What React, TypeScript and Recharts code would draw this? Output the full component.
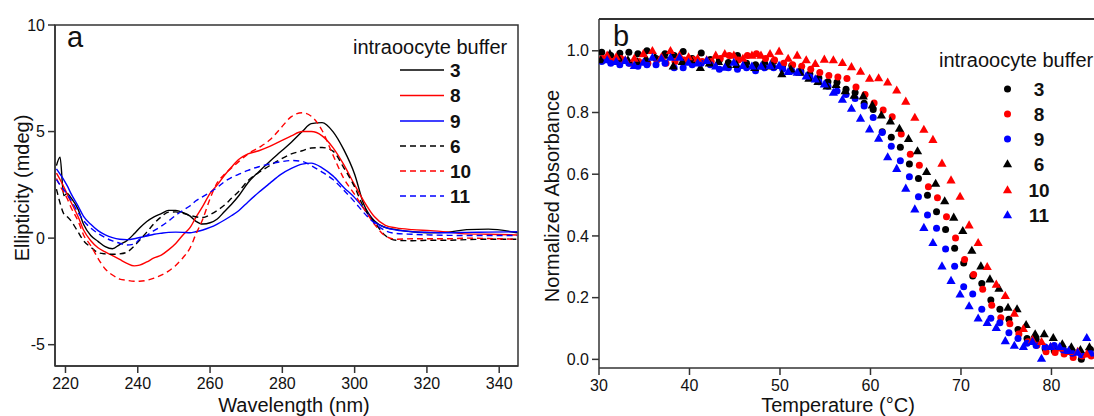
import React from "react";
import {
  LineChart,
  Line,
  ScatterChart,
  Scatter,
  XAxis,
  YAxis,
  ReferenceArea,
  ReferenceLine,
} from "recharts";

const FONT = "'Liberation Sans', Arial, sans-serif";
const AXIS = "#333";
const TXT = "#111";

// ---- panel a: CD spectra ----
const wavelengths = [
  217.5, 218.5, 219.5, 220.5, 221.5, 223.5, 225, 227, 229, 231, 233, 235, 237, 239, 240.5,
  242.5, 244.5, 246.5, 248.5, 250.5, 252.5, 254.5, 256, 258, 260, 262, 264, 266, 268, 270.5,
  273.5, 276.5, 279.5, 282.5, 285.5, 288, 291, 294, 297, 300, 302.5, 305.5, 308.5, 311.5, 316,
  321, 326, 331, 337, 345,
];

const cd3 = [
  3.4, 3.8, 2.0, 2.1, 1.9, 1.35, 0.65, 0.12, -0.15, -0.4, -0.5, -0.3, -0.12, 0.2, 0.47, 0.78,
  1.0, 1.15, 1.3, 1.3, 1.2, 1.03, 0.8, 0.66, 0.72, 0.9, 1.25, 1.6, 2.0, 2.6, 3.12, 3.6, 4.05,
  4.5, 5.0, 5.37, 5.42, 5.0, 4.15, 3.0, 1.6, 0.8, 0.5, 0.4, 0.3, 0.25, 0.28, 0.4, 0.42, 0.25,
];
const cd8 = [
  3.05, 2.75, 2.42, 2.05, 1.7, 1.0, 0.38, -0.12, -0.45, -0.65, -0.82, -1.0, -1.18, -1.3, -1.27,
  -1.12, -0.93, -0.8, -0.55, -0.25, 0.15, 0.5, 0.95, 1.5, 2.1, 2.5, 2.95, 3.35, 3.7, 3.95, 4.1,
  4.3, 4.55, 4.8, 5.0, 5.0, 4.8, 4.25, 3.45, 2.5, 1.75, 1.0, 0.6, 0.48, 0.4, 0.35, 0.28, 0.2,
  0.18, 0.15,
];
const cd9 = [
  3.25, 3.0, 2.75, 2.45, 2.1, 1.5, 1.02, 0.65, 0.35, 0.15, 0.02, -0.05, -0.07, -0.03, 0.03, 0.1,
  0.18, 0.23, 0.27, 0.28, 0.27, 0.25, 0.3, 0.38, 0.5, 0.66, 0.85, 1.06, 1.3, 1.7, 2.15, 2.57,
  2.98, 3.27, 3.47, 3.52, 3.3, 2.92, 2.38, 1.9, 1.4, 0.75, 0.5, 0.38, 0.3, 0.27, 0.25, 0.27,
  0.28, 0.3,
];
const cd6 = [
  2.3, 1.65, 1.15, 1.0, 0.82, 0.28, -0.12, -0.42, -0.68, -0.74, -0.76, -0.74, -0.66, -0.38, -0.1,
  0.28, 0.68, 1.0, 1.22, 1.23, 1.16, 1.07, 1.0, 0.97, 1.1, 1.3, 1.55, 1.88, 2.2, 2.7, 3.08, 3.4,
  3.7, 3.95, 4.1, 4.23, 4.25, 4.08, 3.3, 2.4, 1.45, 0.75, 0.12, -0.1, -0.12, -0.1, -0.1, -0.07,
  -0.05, -0.05,
];
const cd10 = [
  2.8, 2.45, 2.15, 1.85, 1.45, 0.8, 0.15, -0.35, -0.95, -1.45, -1.73, -1.92, -1.98, -2.02, -2.02,
  -1.98, -1.88, -1.74, -1.55, -1.28, -0.92, -0.45, 0.15, 0.9, 1.85, 2.6, 3.0, 3.3, 3.6, 3.95,
  4.25, 4.6, 5.15, 5.7, 5.88, 5.72, 5.05, 3.9, 2.8, 2.05, 1.4, 0.65, 0.1, -0.05, -0.03, -0.03,
  -0.03, 0.0, -0.02, -0.05,
];
const cd11 = [
  2.75, 2.5, 2.28, 2.05, 1.78, 1.2, 0.82, 0.47, 0.22, 0.02, -0.13, -0.24, -0.32, -0.28, -0.05,
  0.13, 0.35, 0.56, 0.8, 1.07, 1.3, 1.52, 1.74, 1.95, 2.15, 2.38, 2.65, 2.85, 3.0, 3.18, 3.35,
  3.48, 3.58, 3.64, 3.6, 3.4, 3.1, 2.75, 2.25, 1.7, 1.2, 0.7, 0.35, 0.22, 0.18, 0.15, 0.13, 0.12,
  0.12, 0.12,
];

const cdTicksX = [220, 240, 260, 280, 300, 320, 340];
const cdTicksY = [-5, 0, 5, 10];

const cdSeries = [
  { key: "b3", label: "3", values: cd3, color: "#000000", dash: undefined },
  { key: "b8", label: "8", values: cd8, color: "#ff0000", dash: undefined },
  { key: "b9", label: "9", values: cd9, color: "#0000ff", dash: undefined },
  { key: "b6", label: "6", values: cd6, color: "#000000", dash: "6 4" },
  { key: "b10", label: "10", values: cd10, color: "#ff0000", dash: "6 4" },
  { key: "b11", label: "11", values: cd11, color: "#0000ff", dash: "6 4" },
];

const cdRows = wavelengths.map((wl, i) => {
  const row: Record<string, number> = { wl };
  cdSeries.forEach((s) => (row[s.key] = s.values[i]));
  return row;
});

// ---- panel b: melting curves ----
const temps = [
  30, 31, 32, 33, 34, 35, 36, 37, 38, 39, 40, 41, 42, 43, 44, 45, 46, 47, 48, 49, 50, 51, 52, 53,
  54, 55, 56, 57, 58, 59, 60, 61, 62, 63, 64, 65, 66, 67, 68, 69, 70, 71, 72, 73, 74, 75, 76, 77,
  78, 79, 80, 81, 82, 83, 84,
];

const abs3 = [
  0.995, 0.985, 0.992, 0.995, 0.99, 1.0, 0.975, 0.99, 0.985, 0.998,
  0.975, 0.993, 0.972, 0.97, 0.962, 0.985, 0.96, 0.955, 0.96, 0.965,
  0.952, 0.952, 0.935, 0.925, 0.912, 0.9, 0.898, 0.875, 0.865, 0.83,
  0.81, 0.738, 0.72, 0.687, 0.633, 0.586, 0.532, 0.478, 0.421, 0.36,
  0.312, 0.27, 0.246, 0.192, 0.162, 0.13, 0.097, 0.068, 0.065, 0.034,
  0.028, 0.032, 0.025, 0.0, 0.032,
];
const abs8 = [
  0.975, 0.965, 0.975, 0.96, 0.965, 0.96, 0.97, 0.96, 0.965, 0.97,
  0.972, 0.965, 0.965, 0.975, 0.985, 0.97, 0.985, 0.99, 0.975, 0.97,
  0.96, 0.955, 0.95, 0.94, 0.93, 0.92, 0.915, 0.91, 0.883, 0.858,
  0.831, 0.808, 0.786, 0.73, 0.665, 0.629, 0.559, 0.524, 0.462, 0.393,
  0.324, 0.275, 0.227, 0.175, 0.135, 0.115, 0.082, 0.057, 0.046, 0.025,
  0.022, 0.017, 0.006, 0.011, 0.011,
];
const abs9 = [
  0.965, 0.96, 0.955, 0.96, 0.95, 0.955, 0.955, 0.96, 0.945, 0.945,
  0.955, 0.96, 0.955, 0.94, 0.945, 0.94, 0.945, 0.935, 0.945, 0.945,
  0.94, 0.935, 0.93, 0.915, 0.9, 0.885, 0.87, 0.858, 0.845, 0.821,
  0.784, 0.735, 0.691, 0.644, 0.592, 0.527, 0.468, 0.425, 0.358, 0.302,
  0.235, 0.212, 0.162, 0.133, 0.119, 0.086, 0.068, 0.052, 0.045, 0.04,
  0.045, 0.03, 0.02, 0.015, 0.02,
];
const abs6 = [
  0.97, 0.99, 0.975, 0.97, 0.965, 0.975, 0.98, 0.985, 0.95, 0.965,
  0.97, 0.945, 0.96, 0.965, 0.955, 0.955, 0.955, 0.945, 0.95, 0.95,
  0.925, 0.94, 0.93, 0.91, 0.9, 0.885, 0.89, 0.87, 0.855, 0.853,
  0.824, 0.791, 0.772, 0.748, 0.715, 0.675, 0.608, 0.57, 0.513, 0.46,
  0.417, 0.353, 0.302, 0.26, 0.23, 0.168, 0.163, 0.112, 0.082, 0.082,
  0.07, 0.05, 0.04, 0.031, 0.04,
];
const abs10 = [
  0.985, 0.98, 0.97, 0.975, 0.99, 1.0, 0.98, 1.0, 0.985, 0.98,
  0.975, 0.97, 0.985, 0.99, 0.985, 0.975, 0.985, 0.985, 0.99, 0.998,
  0.975, 0.985, 0.97, 0.958, 0.972, 0.97, 0.961, 0.948, 0.933, 0.91,
  0.912, 0.898, 0.872, 0.836, 0.784, 0.745, 0.712, 0.635, 0.581, 0.528,
  0.435, 0.378, 0.3, 0.243, 0.206, 0.149, 0.099, 0.063, 0.057, 0.041,
  0.036, 0.025, 0.025, 0.017, 0.015,
];
const abs11 = [
  0.97, 0.965, 0.968, 0.952, 0.962, 0.978, 0.975, 0.978, 0.978, 0.962,
  0.96, 0.968, 0.95, 0.946, 0.962, 0.952, 0.95, 0.95, 0.952, 0.952,
  0.932, 0.93, 0.918, 0.908, 0.892, 0.865, 0.842, 0.813, 0.781, 0.746,
  0.716, 0.656, 0.618, 0.554, 0.487, 0.427, 0.378, 0.302, 0.255, 0.211,
  0.173, 0.133, 0.119, 0.103, 0.06, 0.045, 0.041, 0.057, 0.003, 0.041,
  0.041, 0.028, 0.022, 0.07, 0.02,
];

const meltTicksX = [30, 40, 50, 60, 70, 80];
const meltTicksY = [0, 0.2, 0.4, 0.6, 0.8, 1.0];

// each buffer was sampled slightly off the whole degree
const meltSeries = [
  { label: "3", values: abs3, color: "#000000", shape: "circle", tOffset: 0.3 },
  { label: "8", values: abs8, color: "#ff0000", shape: "circle", tOffset: 0.4 },
  { label: "9", values: abs9, color: "#0000ff", shape: "circle", tOffset: 0.3 },
  { label: "6", values: abs6, color: "#000000", shape: "triangle", tOffset: 0.2 },
  { label: "10", values: abs10, color: "#ff0000", shape: "triangle", tOffset: 0.9 },
  { label: "11", values: abs11, color: "#0000ff", shape: "triangle", tOffset: 0.9 },
];

function Marker({ cx, cy, color, shape }: { cx: number; cy: number; color: string; shape: string }) {
  if (shape === "circle") return <circle cx={cx} cy={cy} r={3.5} fill={color} />;
  return (
    <polygon
      points={`${cx},${cy - 4.8} ${cx + 4.6},${cy + 3.3} ${cx - 4.6},${cy + 3.3}`}
      fill={color}
    />
  );
}

const tickStyle = { fontSize: 16, fill: TXT, fontFamily: FONT };

function Overlay() {
  const rowA = [70, 95.5, 121, 146, 171, 196];
  const rowB = [89, 114, 139, 164, 190, 215];
  return (
    <svg
      width={1094}
      height={416}
      style={{ position: "absolute", left: 0, top: 0, pointerEvents: "none" }}
      fontFamily={FONT}
    >
      <text x={67} y={47} fontSize={29} fill={TXT}>a</text>
      <text x={613} y={46} fontSize={29} fill={TXT}>b</text>

      <text
        transform="translate(22,188) rotate(-90)"
        textAnchor="middle"
        dominantBaseline="central"
        fontSize={20}
        fill={TXT}
      >
        Ellipticity (mdeg)
      </text>
      <text x={294} y={405} textAnchor="middle" dominantBaseline="central" fontSize={20} fill={TXT}>
        Wavelength (nm)
      </text>
      <text
        transform="translate(552,196) rotate(-90)"
        textAnchor="middle"
        dominantBaseline="central"
        fontSize={20}
        fill={TXT}
      >
        Normalized Absorbance
      </text>
      <text x={838} y={405} textAnchor="middle" dominantBaseline="central" fontSize={20} fill={TXT}>
        Temperature (°C)
      </text>

      {/* legend a */}
      <text x={353} y={47} dominantBaseline="central" fontSize={20} fill={TXT}>
        intraoocyte buffer
      </text>
      {cdSeries.map((s, i) => (
        <g key={s.key}>
          <line
            x1={400}
            x2={444}
            y1={rowA[i]}
            y2={rowA[i]}
            stroke={s.color}
            strokeWidth={1.5}
            strokeDasharray={s.dash}
          />
          <text x={450} y={rowA[i]} dominantBaseline="central" fontSize={19} fontWeight="bold" fill={TXT}>
            {s.label}
          </text>
        </g>
      ))}

      {/* legend b */}
      <text x={939} y={60} dominantBaseline="central" fontSize={20} fill={TXT}>
        intraoocyte buffer
      </text>
      {meltSeries.map((s, i) => (
        <g key={s.label}>
          <Marker cx={1007.5} cy={rowB[i]} color={s.color} shape={s.shape} />
          <text
            x={1039}
            y={rowB[i]}
            textAnchor="middle"
            dominantBaseline="central"
            fontSize={19}
            fontWeight="bold"
            fill={TXT}
          >
            {s.label}
          </text>
        </g>
      ))}
    </svg>
  );
}

export default function App() {
  const wlMin = 217.1;
  const wlMax = 345.2;
  const tMin = 30;
  const tMax = 84.7;
  const aMin = -0.028;
  const aMax = 1.103;

  return (
    <div
      style={{
        position: "absolute",
        left: 0,
        top: 0,
        width: 1094,
        height: 416,
        overflow: "hidden",
        background: "#fff",
        fontFamily: FONT,
      }}
    >
      <div style={{ position: "absolute", left: 0, top: 0 }}>
        <LineChart
          width={540}
          height={416}
          data={cdRows}
          margin={{ top: 25, right: 22, bottom: 20, left: 15 }}
        >
          <XAxis
            type="number"
            dataKey="wl"
            domain={[wlMin, wlMax]}
            ticks={cdTicksX}
            allowDataOverflow
            height={30}
            tick={tickStyle}
            tickSize={7}
            tickMargin={5}
            stroke={AXIS}
            strokeWidth={1.5}
          />
          <YAxis
            type="number"
            domain={[-6, 10]}
            ticks={cdTicksY}
            allowDataOverflow
            width={40}
            tick={tickStyle}
            tickSize={7}
            tickMargin={3}
            stroke={AXIS}
            strokeWidth={1.5}
          />
          <ReferenceArea
            x1={wlMin}
            x2={wlMax}
            y1={-6}
            y2={10}
            fill="none"
            fillOpacity={0}
            stroke={AXIS}
            strokeWidth={1.5}
            strokeOpacity={1}
          />
          {cdSeries.map((s) => (
            <Line
              key={s.key}
              type="monotone"
              dataKey={s.key}
              stroke={s.color}
              strokeWidth={1.4}
              strokeDasharray={s.dash}
              dot={false}
              isAnimationActive={false}
            />
          ))}
        </LineChart>
      </div>

      <div style={{ position: "absolute", left: 540, top: 0 }}>
        <ScatterChart
          width={554}
          height={416}
          margin={{ top: 19, right: 0, bottom: 18, left: 14 }}
        >
          <XAxis
            type="number"
            dataKey="t"
            domain={[tMin, tMax]}
            ticks={meltTicksX}
            allowDataOverflow
            height={30}
            tick={tickStyle}
            tickSize={7}
            tickMargin={5}
            stroke={AXIS}
            strokeWidth={1.5}
          />
          <YAxis
            type="number"
            dataKey="v"
            domain={[aMin, aMax]}
            ticks={meltTicksY}
            allowDataOverflow
            width={45}
            tick={tickStyle}
            tickSize={7}
            tickMargin={3}
            tickFormatter={(v: number) => v.toFixed(1)}
            stroke={AXIS}
            strokeWidth={1.5}
          />
          <ReferenceLine y={aMax} stroke={AXIS} strokeWidth={2} />
          {meltSeries.map((s) => (
            <Scatter
              key={s.label}
              data={temps.map((t, i) => ({ t: t + s.tOffset, v: s.values[i] }))}
              isAnimationActive={false}
              shape={(p: any) => <Marker cx={p.cx} cy={p.cy} color={s.color} shape={s.shape} />}
            />
          ))}
        </ScatterChart>
      </div>

      <Overlay />
    </div>
  );
}
